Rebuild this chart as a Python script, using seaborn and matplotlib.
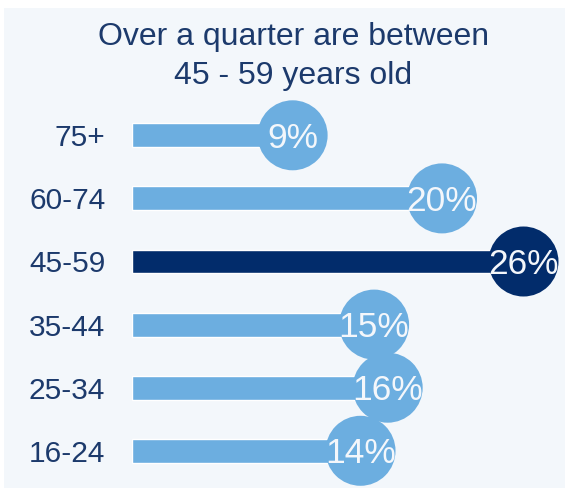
import numpy as np
import pandas as pd
import matplotlib
matplotlib.use("Agg")
import matplotlib.pyplot as plt
import seaborn as sns
from matplotlib.patches import Circle, Rectangle
from matplotlib.transforms import ScaledTranslation

# Data
age_groups = ["75+", "60-74", "45-59", "35-44", "25-34", "16-24"]
shares = [9, 20, 26, 15, 16, 14]
highlight = "45-59"
title_lines = ["Over a quarter are between", "45 - 59 years old"]

# Styling
PANEL = "#f3f7fb"
LIGHT = "#6caee0"
DARK = "#022c6b"
NAVY = "#1c3a6c"
DOT_SIZE = 2540          # marker area in pt^2 (diameter ~50 pt)
BAR_START = -2.85        # bars are drawn from this x position
W, H = 565, 493

sns.set_theme(style="white")
plt.rcParams["font.family"] = ["Liberation Sans", "DejaVu Sans"]

df = pd.DataFrame({"age": age_groups, "share": shares})
df["row"] = np.arange(len(df))
df["group"] = np.where(df["age"] == highlight, "highlight", "other")
colors = {"highlight": DARK, "other": LIGHT}

fig = plt.figure(figsize=(W / 100, H / 100), dpi=100)
fig.patch.set_facecolor("white")
fig.add_artist(Rectangle((4 / W, 5 / H), 561 / W, 480 / H,
                         transform=fig.transFigure, facecolor=PANEL,
                         edgecolor="none", zorder=0))

left = 131.7 / W
ax = fig.add_axes([left, 0, 1 - left, 1])
ax.set_facecolor("none")

# Bars
ax.barh(df["row"], df["share"] - BAR_START, left=BAR_START, height=0.38,
        color=df["group"].map(colors), zorder=2)

# End dots
sns.scatterplot(data=df, x="share", y="row", hue="group", palette=colors,
                s=DOT_SIZE, linewidth=0, legend=False, ax=ax, zorder=3)

# Value labels, clipped to their dot
r_in = np.sqrt(DOT_SIZE) / 2 / 72
for v, r in zip(df["share"], df["row"]):
    offset = ScaledTranslation(0, -0.124, fig.dpi_scale_trans)
    t = ax.text(v, r, f"{v}%", ha="center", va="baseline", fontsize=25.5,
                color="#f4f7fb", zorder=4, transform=ax.transData + offset)
    clip = Circle((0, 0), radius=r_in,
                  transform=fig.dpi_scale_trans + ScaledTranslation(v, r, ax.transData))
    t.set_clip_path(clip)

ax.set_xlim(BAR_START, (W - 170.4) / 13.58)
ax.set_ylim((H - 135.3) / 63.1, -135.3 / 63.1)
ax.set_yticks(df["row"], labels=age_groups)
ax.set_xticks([])
ax.tick_params(axis="y", length=0, pad=19, labelsize=21.5, labelcolor=NAVY)
ax.set_xlabel("")
ax.set_ylabel("")
sns.despine(ax=ax, left=True, bottom=True)

# Title
fig.text(293.5 / W, 1 - 45 / H, title_lines[0], ha="center", va="baseline",
         fontsize=23, color=NAVY)
fig.text(293.5 / W, 1 - 84 / H, title_lines[1], ha="center", va="baseline",
         fontsize=23, color=NAVY)

fig.savefig("out.png", dpi=100, facecolor=fig.get_facecolor())
